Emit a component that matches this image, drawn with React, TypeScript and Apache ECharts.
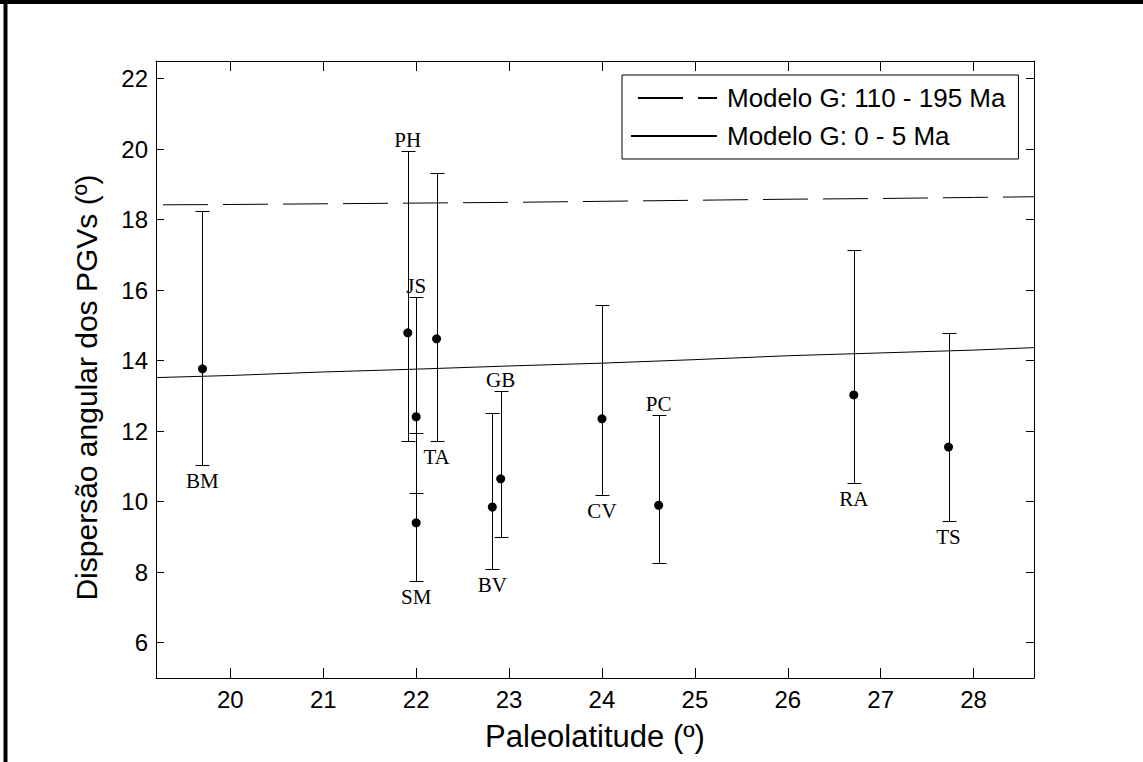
import React, { useEffect, useRef } from "react";
import * as echarts from "echarts";

const sites = ["BM", "PH", "JS", "TA", "SM", "BV", "GB", "CV", "PC", "RA", "TS"];
const paleolat = [19.7, 21.91, 22.0, 22.22, 22.0, 22.82, 22.91, 24.0, 24.61, 26.71, 27.73];
const dispersion = [13.77, 14.79, 12.41, 14.62, 9.4, 9.85, 10.65, 12.35, 9.9, 13.03, 11.55];
const lowerLimit = [11.04, 11.73, 10.25, 11.73, 7.76, 8.09, 9.0, 10.18, 8.26, 10.52, 9.44];
const upperLimit = [18.25, 19.95, 15.81, 19.33, 11.95, 12.51, 13.13, 15.59, 12.45, 17.15, 14.78];
const labelSide = ["bottom", "top", "top", "bottom", "bottom", "bottom", "top", "bottom", "top", "bottom", "bottom"];

const modelLat = [19.2, 20, 21, 22, 23, 24, 25, 26, 27, 28, 28.65];
const modelOld = [18.42, 18.43, 18.45, 18.47, 18.49, 18.52, 18.55, 18.58, 18.6, 18.63, 18.65];
const modelRecent = [13.52, 13.58, 13.68, 13.76, 13.85, 13.93, 14.03, 14.14, 14.22, 14.3, 14.37];

const xTicks = [20, 21, 22, 23, 24, 25, 26, 27, 28];
const yTicks = [6, 8, 10, 12, 14, 16, 18, 20, 22];

const seriesOldName = "Modelo G: 110 - 195 Ma";
const seriesRecentName = "Modelo G: 0 - 5 Ma";

const SANS = "'Liberation Sans', Arial, Helvetica, sans-serif";
const SERIF = "'Liberation Serif', 'Times New Roman', serif";

export default function App() {
  const ref = useRef<HTMLDivElement>(null);

  useEffect(() => {
    if (!ref.current) return;
    const chart = echarts.init(ref.current, null, { renderer: "svg" });

    const axisCommon = {
      type: "value" as const,
      axisLine: { show: true, onZero: false, lineStyle: { color: "#000", width: 1 } },
      splitLine: { show: false },
    };

    const crisp = (v: number) => Math.round(v) + 0.5;

    const option: any = {
      animation: false,
      backgroundColor: "#fff",
      color: ["#000", "#000", "#000", "#000"],
      grid: { left: 156, right: 109, top: 61, bottom: 84, containLabel: false },
      legend: {
        orient: "vertical",
        left: 622,
        top: 75,
        data: [seriesOldName, seriesRecentName],
        itemWidth: 86,
        itemHeight: 14,
        itemGap: 12,
        padding: [10, 13, 10, 8],
        backgroundColor: "#fff",
        borderColor: "#000",
        borderWidth: 1,
        itemStyle: { opacity: 0 },
        textStyle: { fontFamily: SANS, fontSize: 26, color: "#000", padding: [0, 0, 0, 5] },
      },
      xAxis: [
        {
          ...axisCommon,
          min: 19.2,
          max: 28.65,
          position: "bottom",
          name: "Paleolatitude (º)",
          nameLocation: "middle",
          nameGap: 43,
          nameTextStyle: { fontFamily: SANS, fontSize: 31, color: "#000" },
          axisTick: { show: true, inside: true, length: 10, customValues: xTicks, lineStyle: { color: "#000" } },
          axisLabel: { show: true, customValues: xTicks, margin: 9, fontFamily: SANS, fontSize: 24, color: "#000" },
        },
        {
          ...axisCommon,
          min: 19.2,
          max: 28.65,
          position: "top",
          axisTick: { show: true, inside: true, length: 10, customValues: xTicks, lineStyle: { color: "#000" } },
          axisLabel: { show: false },
        },
      ],
      yAxis: [
        {
          ...axisCommon,
          min: 5,
          max: 22.5,
          position: "left",
          name: "Dispersão angular dos PGVs (º)",
          nameLocation: "middle",
          nameGap: 55,
          nameTextStyle: { fontFamily: SANS, fontSize: 30, color: "#000", padding: [0, 36, 0, 0] },
          axisTick: { show: true, inside: true, length: 8, customValues: yTicks, lineStyle: { color: "#000" } },
          axisLabel: { show: true, customValues: yTicks, margin: 8, fontFamily: SANS, fontSize: 24, color: "#000" },
        },
        {
          ...axisCommon,
          min: 5,
          max: 22.5,
          position: "right",
          axisTick: { show: true, inside: true, length: 8, customValues: yTicks, lineStyle: { color: "#000" } },
          axisLabel: { show: false },
        },
      ],
      graphic: [
        { type: "line", shape: { x1: 0, y1: 2, x2: 1143, y2: 2 }, style: { stroke: "#000", lineWidth: 4 }, silent: true },
        { type: "line", shape: { x1: 5.5, y1: 0, x2: 5.5, y2: 762 }, style: { stroke: "#000", lineWidth: 4 }, silent: true },
      ],
      series: [
        {
          name: seriesOldName,
          type: "line",
          xAxisIndex: 0,
          yAxisIndex: 0,
          data: modelLat.map((x, i) => [x, modelOld[i]]),
          symbol: "none",
          showSymbol: false,
          itemStyle: { color: "#000" },
          lineStyle: { color: "#000", width: 1, type: [45, 15], dashOffset: 53 },
          z: 2,
        },
        {
          name: seriesRecentName,
          type: "line",
          xAxisIndex: 0,
          yAxisIndex: 0,
          data: modelLat.map((x, i) => [x, modelRecent[i]]),
          symbol: "none",
          showSymbol: false,
          itemStyle: { color: "#000" },
          lineStyle: { color: "#000", width: 1, type: "solid" },
          z: 2,
        },
        {
          type: "custom",
          xAxisIndex: 0,
          yAxisIndex: 0,
          data: sites.map((s, i) => [paleolat[i], lowerLimit[i], upperLimit[i]]),
          encode: { x: 0, y: [1, 2] },
          renderItem: (params: any, api: any) => {
            const idx = params.dataIndex;
            const x = api.value(0);
            const lo = api.coord([x, api.value(1)]);
            const hi = api.coord([x, api.value(2)]);
            const hw = 7;
            const cx = crisp(lo[0]);
            const yLo = crisp(lo[1]);
            const yHi = crisp(hi[1]);
            const top = labelSide[idx] === "top";
            return {
              type: "group",
              children: [
                { type: "line", shape: { x1: cx, y1: yLo, x2: cx, y2: yHi }, style: { stroke: "#000", lineWidth: 1 } },
                { type: "line", shape: { x1: cx - hw, y1: yHi, x2: cx + hw, y2: yHi }, style: { stroke: "#000", lineWidth: 1 } },
                { type: "line", shape: { x1: cx - hw, y1: yLo, x2: cx + hw, y2: yLo }, style: { stroke: "#000", lineWidth: 1 } },
                {
                  type: "text",
                  x: lo[0],
                  y: top ? hi[1] - 11 : lo[1] + 16,
                  style: {
                    text: sites[idx],
                    fontFamily: SERIF,
                    fontSize: 21,
                    fill: "#000",
                    align: "center",
                    verticalAlign: "middle",
                  },
                },
              ],
            };
          },
          z: 3,
        },
        {
          type: "scatter",
          xAxisIndex: 0,
          yAxisIndex: 0,
          data: sites.map((s, i) => [paleolat[i], dispersion[i]]),
          symbol: "circle",
          symbolSize: 9,
          itemStyle: { color: "#000", opacity: 1 },
          z: 4,
        },
      ],
    };

    chart.setOption(option);
    return () => chart.dispose();
  }, []);

  return (
    <div
      ref={ref}
      style={{ position: "fixed", left: 0, top: 0, width: 1143, height: 762, background: "#fff" }}
    />
  );
}
